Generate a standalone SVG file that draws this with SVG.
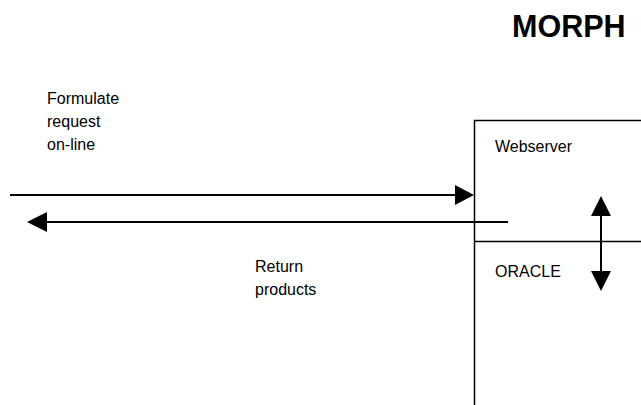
<svg xmlns="http://www.w3.org/2000/svg" width="641" height="405" viewBox="0 0 641 405">
<style>
text{font-family:"Liberation Sans",Arial,sans-serif;font-size:16px;fill:#000}
.title{font-weight:bold;font-size:30.5px}
.ln{stroke:#000;stroke-width:2;fill:none}
.bx{stroke:#000;stroke-width:1.5;fill:none}
.hd{fill:#000;stroke:none}
</style>
<rect width="641" height="405" fill="#fff"/>
<text class="title" x="512" y="37">MORPH</text>
<g id="server">
<path class="bx" d="M474.5,405 V120.5 H641"/>
<line class="bx" x1="474.5" y1="241.5" x2="641" y2="241.5"/>
<g id="webserver"><text x="495" y="152">Webserver</text></g>
<g id="oracle"><text x="495" y="277">ORACLE</text></g>
</g>
<g id="request-label"><text x="47" y="104">Formulate</text><text x="47" y="127">request</text><text x="47" y="150">on-line</text></g>
<g id="return-label"><text x="255" y="272">Return</text><text x="255" y="295">products</text></g>
<g id="connectors">
<line class="ln" x1="10" y1="195" x2="456" y2="195"/>
<polygon class="hd" points="474,195 455,185 455,205"/>
<line class="ln" x1="508" y1="222" x2="45" y2="222"/>
<polygon class="hd" points="27,222 47,212 47,232"/>
<line class="ln" x1="601" y1="214" x2="601" y2="273"/>
<polygon class="hd" points="601,196 591,216 611,216"/>
<polygon class="hd" points="601,291 591,271 611,271"/>
</g>
</svg>
